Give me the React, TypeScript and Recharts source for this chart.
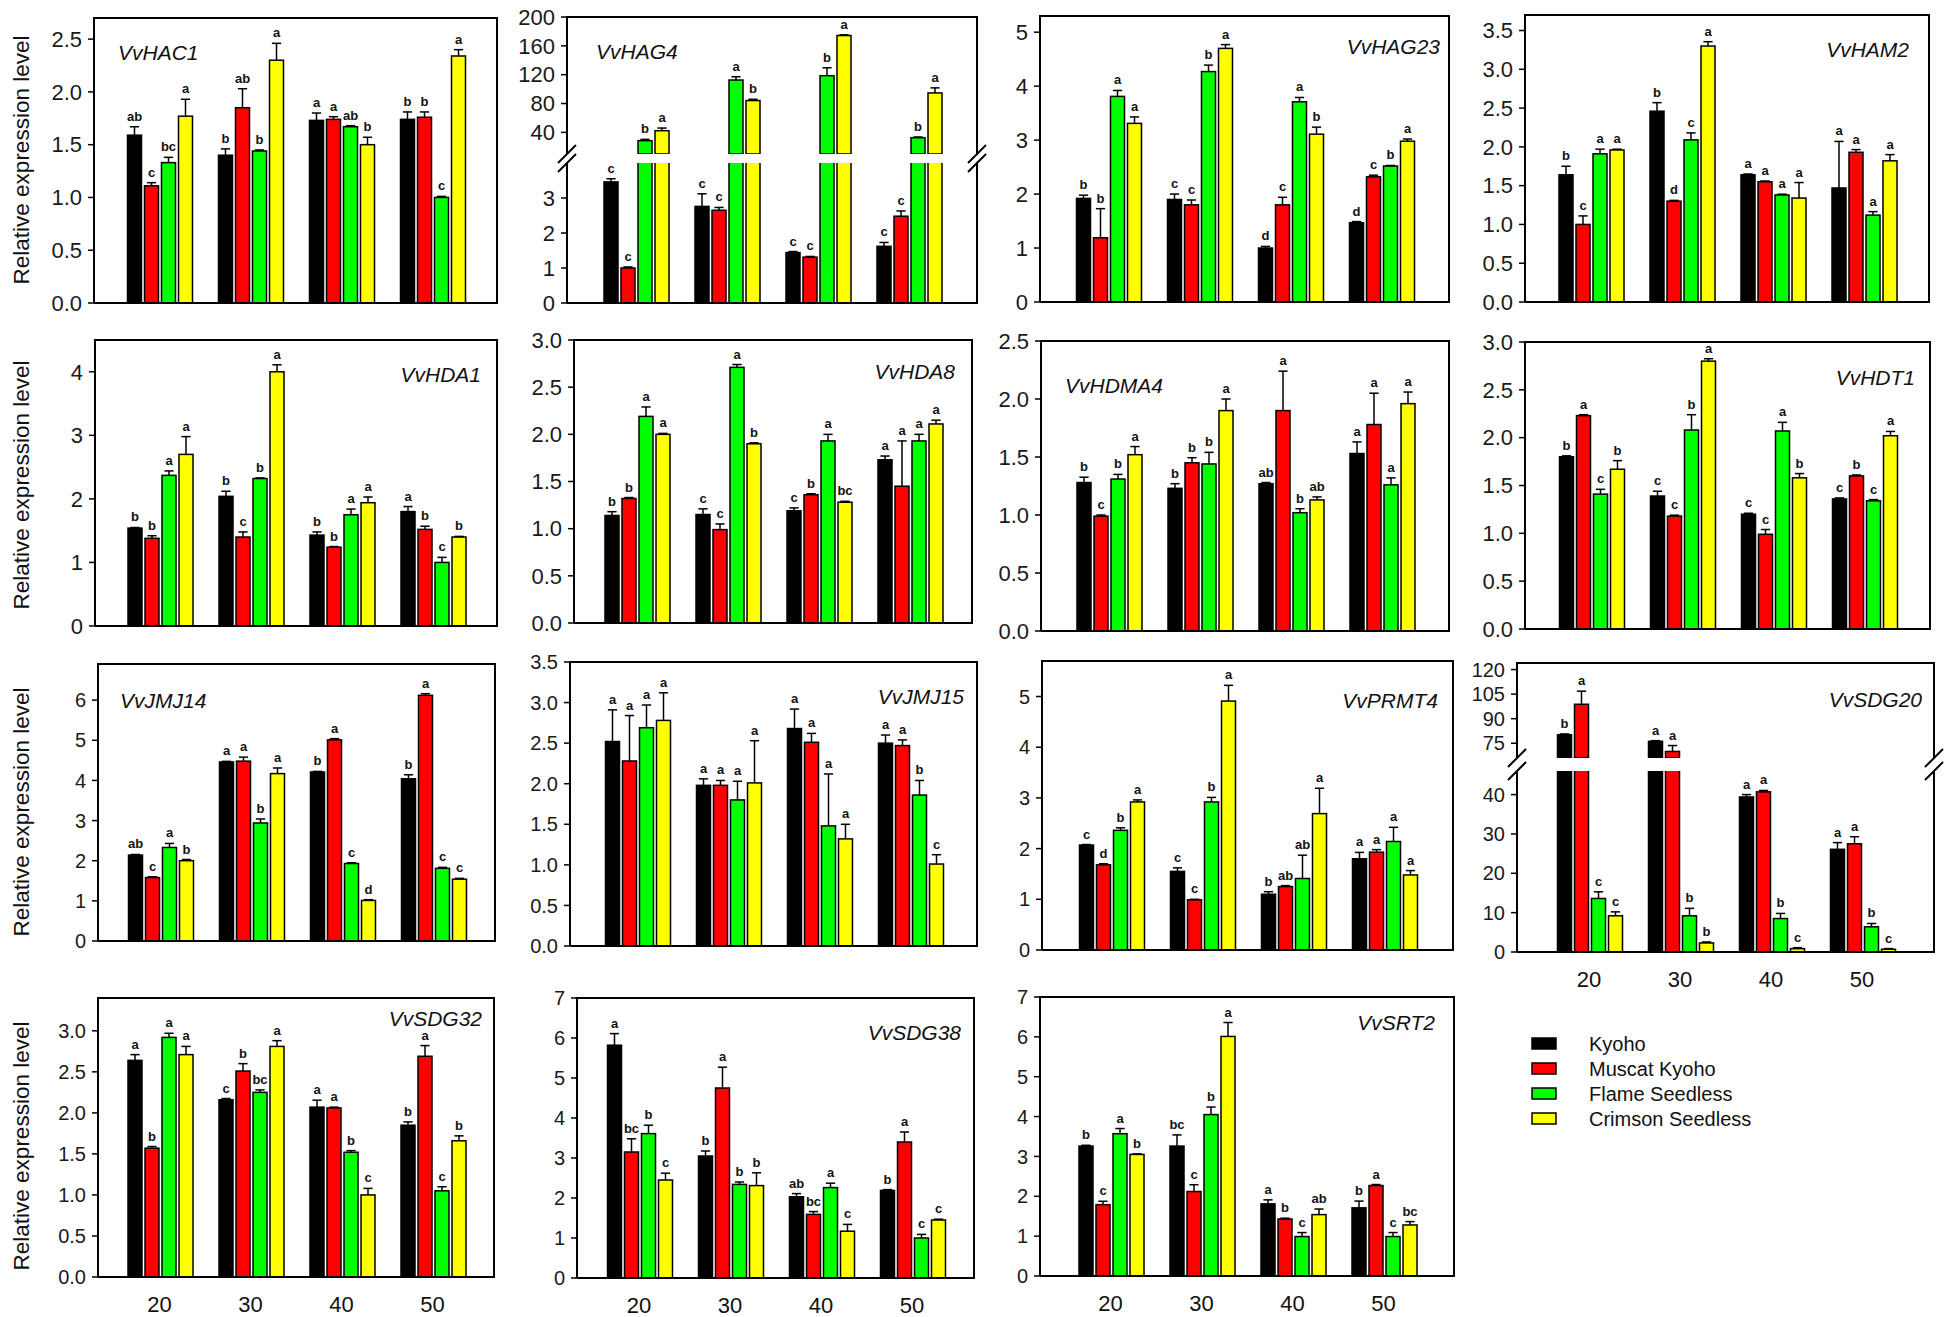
import { BarChart, Bar, XAxis, YAxis } from 'recharts'

const FONT = "'Liberation Sans', Arial, Helvetica, sans-serif"

const AGES = ['20', '30', '40', '50']
const SERIES = ['Kyoho', 'Muscat Kyoho', 'Flame Seedless', 'Crimson Seedless']
const COLORS = ['#000000', '#ff0000', '#00ff00', '#ffff00']

// one inner array per cultivar (Kyoho, Muscat Kyoho, Flame, Crimson), values at 20/30/40/50
const HAC1_MEAN = [[1.59, 1.40, 1.73, 1.74], [1.11, 1.85, 1.74, 1.76], [1.33, 1.44, 1.67, 1.00], [1.77, 2.30, 1.50, 2.34]]
const HAC1_SE = [[0.08, 0.06, 0.07, 0.07], [0.03, 0.18, 0.025, 0.05], [0.05, 0.01, 0.01, 0.01], [0.16, 0.16, 0.07, 0.06]]
const HAC1_SIG = [['ab', 'b', 'a', 'b'], ['c', 'ab', 'a', 'b'], ['bc', 'b', 'ab', 'c'], ['a', 'a', 'b', 'a']]

const HAG4_MEAN = [[3.46, 2.76, 1.44, 1.62], [1.00, 2.65, 1.31, 2.48], [28.5, 112.6, 118.6, 32.6], [42.3, 84.1, 174.3, 94.7]]
const HAG4_SE = [[0.09, 0.36, 0.03, 0.11], [0.03, 0.08, 0.02, 0.15], [1.8, 4.6, 11, 1], [3.7, 1.8, 1, 7]]
const HAG4_SIG = [['c', 'c', 'c', 'c'], ['c', 'c', 'c', 'c'], ['b', 'a', 'b', 'b'], ['a', 'b', 'a', 'a']]

const HAG23_MEAN = [[1.92, 1.90, 1.00, 1.47], [1.19, 1.80, 1.80, 2.32], [3.81, 4.27, 3.71, 2.52], [3.31, 4.70, 3.11, 2.98]]
const HAG23_SE = [[0.06, 0.10, 0.03, 0.02], [0.54, 0.09, 0.14, 0.03], [0.11, 0.12, 0.08, 0.01], [0.12, 0.07, 0.13, 0.04]]
const HAG23_SIG = [['b', 'c', 'd', 'd'], ['b', 'c', 'c', 'c'], ['a', 'b', 'a', 'b'], ['a', 'a', 'b', 'a']]

const HAM2_MEAN = [[1.64, 2.46, 1.64, 1.47], [1.00, 1.30, 1.55, 1.93], [1.91, 2.09, 1.38, 1.12], [1.96, 3.30, 1.34, 1.82]]
const HAM2_SE = [[0.11, 0.11, 0.01, 0.60], [0.11, 0.01, 0.01, 0.035], [0.06, 0.09, 0.01, 0.045], [0.01, 0.056, 0.20, 0.08]]
const HAM2_SIG = [['b', 'b', 'a', 'a'], ['c', 'd', 'a', 'a'], ['a', 'c', 'a', 'a'], ['a', 'a', 'a', 'a']]

const HDA1_MEAN = [[1.54, 2.04, 1.43, 1.80], [1.38, 1.40, 1.24, 1.52], [2.37, 2.32, 1.75, 1.00], [2.70, 4.00, 1.94, 1.40]]
const HDA1_SE = [[0.01, 0.08, 0.05, 0.08], [0.04, 0.08, 0.01, 0.05], [0.07, 0.01, 0.09, 0.08], [0.28, 0.11, 0.09, 0.01]]
const HDA1_SIG = [['b', 'b', 'b', 'a'], ['b', 'c', 'b', 'b'], ['a', 'b', 'a', 'c'], ['a', 'a', 'a', 'b']]

const HDA8_MEAN = [[1.14, 1.15, 1.19, 1.73], [1.32, 0.99, 1.36, 1.45], [2.19, 2.71, 1.93, 1.93], [2.00, 1.90, 1.28, 2.11]]
const HDA8_SE = [[0.04, 0.06, 0.03, 0.04], [0.01, 0.06, 0.01, 0.48], [0.10, 0.03, 0.07, 0.07], [0.01, 0.01, 0.01, 0.04]]
const HDA8_SIG = [['b', 'c', 'c', 'a'], ['b', 'c', 'b', 'a'], ['a', 'a', 'a', 'a'], ['a', 'b', 'bc', 'a']]

const HDMA4_MEAN = [[1.28, 1.23, 1.27, 1.53], [0.99, 1.45, 1.90, 1.78], [1.31, 1.44, 1.02, 1.26], [1.52, 1.90, 1.13, 1.96]]
const HDMA4_SE = [[0.046, 0.04, 0.01, 0.10], [0.01, 0.044, 0.34, 0.27], [0.04, 0.10, 0.034, 0.06], [0.07, 0.10, 0.026, 0.10]]
const HDMA4_SIG = [['b', 'b', 'ab', 'a'], ['c', 'b', 'a', 'a'], ['b', 'b', 'b', 'a'], ['a', 'a', 'ab', 'a']]

const HDT1_MEAN = [[1.80, 1.39, 1.20, 1.36], [2.23, 1.18, 0.99, 1.60], [1.41, 2.08, 2.07, 1.34], [1.67, 2.80, 1.58, 2.02]]
const HDT1_SE = [[0.01, 0.05, 0.01, 0.01], [0.01, 0.01, 0.05, 0.01], [0.05, 0.16, 0.09, 0.013], [0.09, 0.025, 0.045, 0.045]]
const HDT1_SIG = [['b', 'c', 'c', 'c'], ['a', 'c', 'c', 'b'], ['c', 'b', 'a', 'c'], ['b', 'a', 'b', 'a']]

const JMJ14_MEAN = [[2.14, 4.46, 4.21, 4.04], [1.58, 4.48, 5.01, 6.12], [2.33, 2.94, 1.93, 1.81], [2.00, 4.17, 1.01, 1.54]]
const JMJ14_SE = [[0.015, 0.015, 0.015, 0.10], [0.02, 0.10, 0.03, 0.04], [0.10, 0.10, 0.02, 0.025], [0.03, 0.14, 0.02, 0.02]]
const JMJ14_SIG = [['ab', 'a', 'b', 'b'], ['c', 'a', 'a', 'a'], ['a', 'b', 'c', 'c'], ['b', 'a', 'd', 'c']]

const JMJ15_MEAN = [[2.52, 1.98, 2.68, 2.50], [2.28, 1.98, 2.51, 2.47], [2.69, 1.80, 1.48, 1.86], [2.78, 2.01, 1.32, 1.01]]
const JMJ15_SE = [[0.39, 0.08, 0.24, 0.10], [0.56, 0.06, 0.11, 0.07], [0.28, 0.23, 0.64, 0.18], [0.34, 0.52, 0.18, 0.115]]
const JMJ15_SIG = [['a', 'a', 'a', 'a'], ['a', 'a', 'a', 'a'], ['a', 'a', 'a', 'b'], ['a', 'a', 'a', 'c']]

const PRMT4_MEAN = [[2.07, 1.55, 1.10, 1.80], [1.68, 0.99, 1.25, 1.93], [2.36, 2.92, 1.41, 2.14], [2.92, 4.91, 2.69, 1.48]]
const PRMT4_SE = [[0.01, 0.07, 0.05, 0.125], [0.02, 0.01, 0.02, 0.05], [0.05, 0.09, 0.46, 0.28], [0.04, 0.31, 0.50, 0.086]]
const PRMT4_SIG = [['c', 'c', 'b', 'a'], ['d', 'c', 'ab', 'a'], ['b', 'b', 'ab', 'a'], ['a', 'a', 'a', 'a']]

const SDG20_MEAN = [[80.2, 76.2, 39.4, 26.1], [98.8, 70.0, 40.7, 27.5], [13.6, 9.2, 8.5, 6.4], [9.2, 2.3, 0.85, 0.7]]
const SDG20_SE = [[0.5, 0.4, 0.6, 1.7], [8, 3.6, 0.35, 1.8], [1.7, 1.9, 1.3, 0.85], [1.0, 0.25, 0.25, 0.17]]
const SDG20_SIG = [['b', 'a', 'a', 'a'], ['a', 'a', 'a', 'a'], ['c', 'b', 'b', 'b'], ['c', 'b', 'c', 'c']]

const SDG32_MEAN = [[2.64, 2.16, 2.07, 1.85], [1.57, 2.51, 2.06, 2.69], [2.92, 2.25, 1.52, 1.05], [2.71, 2.81, 1.00, 1.66]]
const SDG32_SE = [[0.07, 0.015, 0.085, 0.04], [0.02, 0.09, 0.01, 0.13], [0.05, 0.03, 0.02, 0.05], [0.10, 0.07, 0.08, 0.06]]
const SDG32_SIG = [['a', 'c', 'a', 'b'], ['b', 'b', 'a', 'a'], ['a', 'bc', 'b', 'c'], ['a', 'a', 'c', 'b']]

const SDG38_MEAN = [[5.82, 3.05, 2.03, 2.19], [3.15, 4.75, 1.59, 3.40], [3.61, 2.34, 2.26, 1.00], [2.45, 2.31, 1.17, 1.45]]
const SDG38_SE = [[0.29, 0.125, 0.08, 0.02], [0.33, 0.52, 0.07, 0.25], [0.21, 0.06, 0.11, 0.09], [0.17, 0.32, 0.17, 0.02]]
const SDG38_SIG = [['a', 'b', 'ab', 'b'], ['bc', 'a', 'bc', 'a'], ['b', 'b', 'a', 'c'], ['c', 'b', 'c', 'c']]

const SRT2_MEAN = [[3.26, 3.26, 1.81, 1.71], [1.79, 2.12, 1.43, 2.27], [3.57, 4.05, 0.99, 0.99], [3.05, 6.01, 1.54, 1.28]]
const SRT2_SE = [[0.02, 0.28, 0.10, 0.17], [0.085, 0.17, 0.02, 0.025], [0.13, 0.19, 0.10, 0.10], [0.015, 0.35, 0.14, 0.085]]
const SRT2_SIG = [['b', 'bc', 'a', 'b'], ['c', 'c', 'b', 'a'], ['a', 'b', 'c', 'c'], ['b', 'a', 'ab', 'bc']]

// y tick values
const T_HAC1 = [0, 0.5, 1, 1.5, 2, 2.5]
const T_HAG4_UP = [40, 80, 120, 160, 200]
const T_HAG4_LOW = [0, 1, 2, 3]
const T_HAG23 = [0, 1, 2, 3, 4, 5]
const T_HAM2 = [0, 0.5, 1, 1.5, 2, 2.5, 3, 3.5]
const T_HDA1 = [0, 1, 2, 3, 4]
const T_HDA8 = [0, 0.5, 1, 1.5, 2, 2.5, 3]
const T_HDMA4 = [0, 0.5, 1, 1.5, 2, 2.5]
const T_HDT1 = [0, 0.5, 1, 1.5, 2, 2.5, 3]
const T_JMJ14 = [0, 1, 2, 3, 4, 5, 6]
const T_JMJ15 = [0, 0.5, 1, 1.5, 2, 2.5, 3, 3.5]
const T_PRMT4 = [0, 1, 2, 3, 4, 5]
const T_SDG20_UP = [75, 90, 105, 120]
const T_SDG20_LOW = [0, 10, 20, 30, 40]
const T_SDG32 = [0, 0.5, 1, 1.5, 2, 2.5, 3]
const T_SDG38 = [0, 1, 2, 3, 4, 5, 6, 7]
const T_SRT2 = [0, 1, 2, 3, 4, 5, 6, 7]

const Y_TITLE = 'Relative expression level'

type Seg = { y0: number; y1: number; domain: [number, number]; ticks: number[] }
type Panel = {
  gene: string
  mean: number[][]
  se: number[][]
  sig: string[][]
  x0: number
  x1: number
  segs: Seg[]
  fmt: (v: number) => string
  label: [number, number, 'start' | 'end']
  xLabels?: boolean
}

const one = (v: number) => v.toFixed(1)
const int = (v: number) => String(v)

const PANELS: Panel[] = [
  { gene: 'VvHAC1', mean: HAC1_MEAN, se: HAC1_SE, sig: HAC1_SIG, x0: 94, x1: 497, fmt: one, label: [118, 60, 'start'],
    segs: [{ y0: 18, y1: 303, domain: [0, 2.7], ticks: T_HAC1 }] },
  { gene: 'VvHAG4', mean: HAG4_MEAN, se: HAG4_SE, sig: HAG4_SIG, x0: 567, x1: 977, fmt: int, label: [596, 59, 'start'],
    segs: [{ y0: 17, y1: 154, domain: [10, 200], ticks: T_HAG4_UP }, { y0: 163, y1: 303, domain: [0, 4], ticks: T_HAG4_LOW }] },
  { gene: 'VvHAG23', mean: HAG23_MEAN, se: HAG23_SE, sig: HAG23_SIG, x0: 1040, x1: 1449, fmt: int, label: [1440, 54, 'end'],
    segs: [{ y0: 16, y1: 302, domain: [0, 5.3], ticks: T_HAG23 }] },
  { gene: 'VvHAM2', mean: HAM2_MEAN, se: HAM2_SE, sig: HAM2_SIG, x0: 1525, x1: 1929, fmt: one, label: [1909, 57, 'end'],
    segs: [{ y0: 15, y1: 302, domain: [0, 3.7], ticks: T_HAM2 }] },

  { gene: 'VvHDA1', mean: HDA1_MEAN, se: HDA1_SE, sig: HDA1_SIG, x0: 95, x1: 497, fmt: int, label: [481, 382, 'end'],
    segs: [{ y0: 340, y1: 626, domain: [0, 4.5], ticks: T_HDA1 }] },
  { gene: 'VvHDA8', mean: HDA8_MEAN, se: HDA8_SE, sig: HDA8_SIG, x0: 574, x1: 972, fmt: one, label: [955, 379, 'end'],
    segs: [{ y0: 340, y1: 623, domain: [0, 3], ticks: T_HDA8 }] },
  { gene: 'VvHDMA4', mean: HDMA4_MEAN, se: HDMA4_SE, sig: HDMA4_SIG, x0: 1041, x1: 1449, fmt: one, label: [1065, 393, 'start'],
    segs: [{ y0: 341, y1: 631, domain: [0, 2.5], ticks: T_HDMA4 }] },
  { gene: 'VvHDT1', mean: HDT1_MEAN, se: HDT1_SE, sig: HDT1_SIG, x0: 1525, x1: 1930, fmt: one, label: [1915, 385, 'end'],
    segs: [{ y0: 342, y1: 629, domain: [0, 3], ticks: T_HDT1 }] },

  { gene: 'VvJMJ14', mean: JMJ14_MEAN, se: JMJ14_SE, sig: JMJ14_SIG, x0: 98, x1: 495, fmt: int, label: [120, 708, 'start'],
    segs: [{ y0: 664, y1: 941, domain: [0, 6.9], ticks: T_JMJ14 }] },
  { gene: 'VvJMJ15', mean: JMJ15_MEAN, se: JMJ15_SE, sig: JMJ15_SIG, x0: 570, x1: 977, fmt: one, label: [964, 704, 'end'],
    segs: [{ y0: 662, y1: 946, domain: [0, 3.5], ticks: T_JMJ15 }] },
  { gene: 'VvPRMT4', mean: PRMT4_MEAN, se: PRMT4_SE, sig: PRMT4_SIG, x0: 1042, x1: 1453, fmt: int, label: [1438, 708, 'end'],
    segs: [{ y0: 661, y1: 950, domain: [0, 5.7], ticks: T_PRMT4 }] },
  { gene: 'VvSDG20', mean: SDG20_MEAN, se: SDG20_SE, sig: SDG20_SIG, x0: 1517, x1: 1934, fmt: int, label: [1922, 707, 'end'], xLabels: true,
    segs: [{ y0: 663, y1: 758, domain: [66, 124], ticks: T_SDG20_UP }, { y0: 771, y1: 952, domain: [0, 46], ticks: T_SDG20_LOW }] },

  { gene: 'VvSDG32', mean: SDG32_MEAN, se: SDG32_SE, sig: SDG32_SIG, x0: 98, x1: 494, fmt: one, label: [482, 1026, 'end'], xLabels: true,
    segs: [{ y0: 998, y1: 1277, domain: [0, 3.4], ticks: T_SDG32 }] },
  { gene: 'VvSDG38', mean: SDG38_MEAN, se: SDG38_SE, sig: SDG38_SIG, x0: 577, x1: 974, fmt: int, label: [961, 1040, 'end'], xLabels: true,
    segs: [{ y0: 998, y1: 1278, domain: [0, 7], ticks: T_SDG38 }] },
  { gene: 'VvSRT2', mean: SRT2_MEAN, se: SRT2_SE, sig: SRT2_SIG, x0: 1040, x1: 1454, fmt: int, label: [1435, 1030, 'end'], xLabels: true,
    segs: [{ y0: 997, y1: 1276, domain: [0, 7], ticks: T_SRT2 }] },
]

const TITLE_Y = [160, 485, 812, 1146]

function buildRows(mean: number[][], se: number[][], sig: string[][]) {
  return AGES.map((age, j) => {
    const row: Record<string, string | number> = { age }
    SERIES.forEach((_, i) => {
      row[`s${i}`] = mean[i][j]
      row[`e${i}`] = se[i][j]
      row[`l${i}`] = sig[i][j]
    })
    return row
  })
}

// bar with one-sided error bar and significance letter
function barShape(si: number, seg: Seg) {
  const [lo, hi] = seg.domain
  const ppu = (seg.y1 - seg.y0) / (hi - lo)
  return (p: any) => {
    const v = p.payload[`s${si}`]
    if (v < lo) return <g />
    const { x, y, width, height } = p
    const cx = x + width / 2
    const top = y - p.payload[`e${si}`] * ppu
    const cap = width * 0.33
    return (
      <g>
        <rect x={x} y={y} width={width} height={height} fill={COLORS[si]} stroke="#000" strokeWidth={1.5} />
        {v <= hi && (
          <g>
            <line x1={cx} x2={cx} y1={y} y2={top} stroke="#000" strokeWidth={1.5} />
            <line x1={cx - cap} x2={cx + cap} y1={top} y2={top} stroke="#000" strokeWidth={1.5} />
            <text x={cx} y={top - 6} textAnchor="middle" fontSize={13} fontWeight="bold" fontFamily={FONT} fill="#111">
              {p.payload[`l${si}`]}
            </text>
          </g>
        )}
      </g>
    )
  }
}

const frame = { stroke: '#000', strokeWidth: 2 }

function Segment({ panel, seg, idx }: { panel: Panel; seg: Seg; idx: number }) {
  const last = idx === panel.segs.length - 1
  const broken = panel.segs.length > 1
  const labelled = last && !!panel.xLabels
  const W = panel.x1 - panel.x0
  const pad = (W - 364) / 2
  const yw = 66
  const mt = 16
  const mr = 12
  const mb = labelled ? 4 : 16
  const xh = labelled ? 40 : 2
  const h = seg.y1 - seg.y0
  const rows = buildRows(panel.mean, panel.se, panel.sig)
  const tickFont = panel.segs[0].y0 > 640 ? 20 : 22

  return (
    <div style={{ position: 'absolute', left: panel.x0 - yw, top: seg.y0 - mt }}>
      <BarChart
        width={W + yw + mr}
        height={h + mt + xh + mb}
        data={rows}
        margin={{ top: mt, right: mr, bottom: mb, left: 0 }}
        barCategoryGap={14}
        barGap={3}
      >
        <XAxis
          dataKey="age"
          padding={{ left: pad, right: pad }}
          height={xh}
          axisLine={last ? frame : false}
          tickLine={false}
          tickSize={0}
          tickMargin={19}
          tick={labelled ? { fill: '#111', fontSize: 22, fontFamily: FONT } : false}
        />
        <YAxis
          width={yw}
          domain={seg.domain}
          ticks={seg.ticks}
          interval={0}
          allowDataOverflow={broken}
          tickFormatter={panel.fmt}
          tick={{ fill: '#1a1a1a', fontSize: tickFont, fontFamily: FONT }}
          tickLine={{ stroke: '#000', strokeWidth: 1.5 }}
          tickSize={6}
          tickMargin={6}
          axisLine={frame}
        />
        {SERIES.map((s, i) => (
          <Bar key={s} dataKey={`s${i}`} name={s} fill={COLORS[i]} isAnimationActive={false} shape={barShape(i, seg)} />
        ))}
      </BarChart>
    </div>
  )
}

function Overlay() {
  const broken = PANELS.filter((p) => p.segs.length > 1)
  return (
    <svg width={1946} height={1317} style={{ position: 'absolute', left: 0, top: 0, pointerEvents: 'none' }}>
      {/* top and right edges of each panel frame */}
      {PANELS.map((p) => (
        <g key={`f-${p.gene}`} stroke="#000" strokeWidth={2}>
          <line x1={p.x0 - 1} x2={p.x1 + 1} y1={p.segs[0].y0} y2={p.segs[0].y0} />
          {p.segs.map((s, i) => (
            <line key={i} x1={p.x1} x2={p.x1} y1={s.y0} y2={s.y1 + 1} />
          ))}
        </g>
      ))}
      {PANELS.map((p) => (
        <text key={p.gene} x={p.label[0]} y={p.label[1]} textAnchor={p.label[2]} fontStyle="italic" fontSize={21} fontFamily={FONT} fill="#111">
          {p.gene}
        </text>
      ))}
      {TITLE_Y.map((cy) => (
        <text key={cy} transform={`translate(21 ${cy}) rotate(-90)`} textAnchor="middle" dominantBaseline="central" fontSize={22.5} fontFamily={FONT} fill="#111">
          {Y_TITLE}
        </text>
      ))}
      {broken.map((p) =>
        [p.x0, p.x1].map((x) =>
          [p.segs[0].y1, p.segs[1].y0].map((g) => (
            <line key={`${p.gene}-${x}-${g}`} x1={x - 9} y1={g + 9} x2={x + 9} y2={g - 9} stroke="#000" strokeWidth={2} />
          )),
        ),
      )}
      {SERIES.map((s, i) => (
        <g key={s}>
          <rect x={1532} y={1038 + i * 25} width={24} height={11} fill={COLORS[i]} stroke="#000" strokeWidth={1.5} />
          <text x={1589} y={1044 + i * 25} dominantBaseline="central" fontSize={20} fontFamily={FONT} fill="#111">
            {s}
          </text>
        </g>
      ))}
    </svg>
  )
}

export default function App() {
  return (
    <div style={{ position: 'absolute', left: 0, top: 0, width: 1946, height: 1317, background: '#fff', overflow: 'hidden' }}>
      {PANELS.map((p) => p.segs.map((seg, i) => <Segment key={`${p.gene}-${i}`} panel={p} seg={seg} idx={i} />))}
      <Overlay />
    </div>
  )
}
